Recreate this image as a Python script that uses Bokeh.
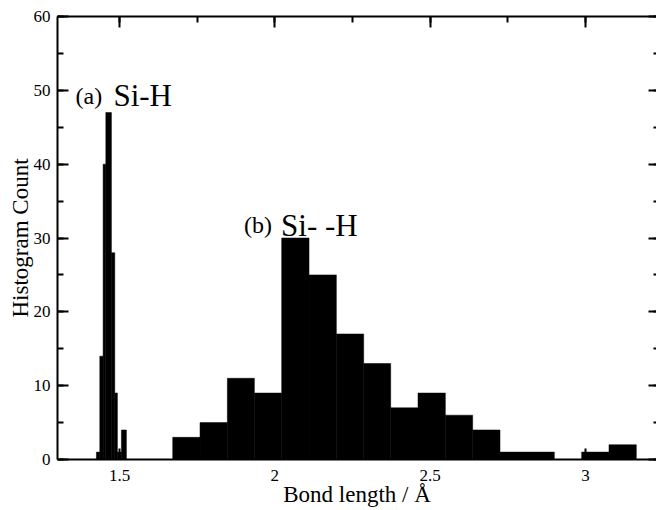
from bokeh.plotting import figure
from bokeh.models import (LinearAxis, Label, Range1d, SingleIntervalTicker,
                          CustomLabelingPolicy)
from bokeh.embed import file_html
from bokeh.resources import INLINE

# (a) Si-H histogram: bin edges (Å) and counts
sih_left = [1.4253, 1.4362, 1.4469, 1.4556, 1.4736, 1.4845, 1.4929, 1.5058]
sih_right = [1.4362, 1.4469, 1.4556, 1.4736, 1.4845, 1.4929, 1.5058, 1.5219]
sih_counts = [1, 14, 40, 47, 28, 9, 1, 4]

# (b) Si- -H histogram: bin edges (Å) and counts
sihh_edges = [1.671, 1.759, 1.847, 1.934, 2.022, 2.110, 2.198, 2.286, 2.373,
              2.461, 2.549, 2.637, 2.725, 2.812, 2.900, 2.988, 3.076, 3.164]
sihh_counts = [3, 5, 11, 9, 30, 25, 17, 13, 7, 9, 6, 4, 1, 1, 0, 1, 2]

x_title = "Bond length / Å"
y_title = "Histogram Count"

FONT = "Liberation Serif"

p = figure(width=656, height=510, output_backend="svg", toolbar_location=None,
           x_range=Range1d(1.3, 3.229), y_range=Range1d(0, 60),
           x_axis_location=None, y_axis_location=None,
           min_border_left=57, min_border_top=16, min_border_bottom=51,
           min_border_right=0)
p.outline_line_color = None
p.grid.visible = False
p.background_fill_color = "white"
p.border_fill_color = "white"

p.quad(left=sih_left, right=sih_right, bottom=0, top=sih_counts,
       fill_color="black", line_color="black", line_width=0.5)
p.quad(left=sihh_edges[:-1], right=sihh_edges[1:], bottom=0, top=sihh_counts,
       fill_color="black", line_color="black", line_width=0.5)

bottom_ax = LinearAxis(ticker=SingleIntervalTicker(interval=0.5, num_minor_ticks=2),
                       axis_label=x_title)
left_ax = LinearAxis(ticker=SingleIntervalTicker(interval=10, num_minor_ticks=2),
                     axis_label=y_title)
top_ax = LinearAxis(ticker=SingleIntervalTicker(interval=0.5, num_minor_ticks=2))
right_ax = LinearAxis(ticker=SingleIntervalTicker(interval=10, num_minor_ticks=2))

for ax in [bottom_ax, left_ax, top_ax, right_ax]:
    ax.axis_line_width = 2
    ax.axis_line_color = "black"
    ax.major_tick_in = 11
    ax.major_tick_out = 0
    ax.minor_tick_in = 6
    ax.minor_tick_out = 0
    ax.major_tick_line_width = 2
    ax.minor_tick_line_width = 2
    ax.major_tick_line_color = "black"
    ax.minor_tick_line_color = "black"
    ax.major_label_text_font = FONT
    ax.major_label_text_font_size = "17px"
    ax.major_label_text_color = "black"
    ax.axis_label_text_font = FONT
    ax.axis_label_text_font_size = "23px"
    ax.axis_label_text_font_style = "normal"
    ax.axis_label_text_color = "black"

hide = CustomLabelingPolicy(code="return new Set()")
for ax in [top_ax, right_ax]:
    ax.major_label_text_font_size = "1px"
    ax.major_label_standoff = -3
    ax.major_label_policy = hide
right_ax.major_label_standoff = -8
right_ax.axis_line_color = None
right_ax.major_tick_in = 8
right_ax.minor_tick_in = 3

bottom_ax.major_label_standoff = 10
bottom_ax.axis_label_standoff = -2
left_ax.major_label_standoff = 7
left_ax.axis_label_standoff = -2

p.add_layout(bottom_ax, "below")
p.add_layout(left_ax, "left")
p.add_layout(top_ax, "above")
p.add_layout(right_ax, "right")

for (lx, ly, txt, fs) in [(1.358, 49.3, "(a)", "24px"), (1.480, 49.3, "Si-H", "31px"),
                          (1.901, 31.7, "(b)", "24px"), (2.020, 31.7, "Si- -H", "31px")]:
    p.add_layout(Label(x=lx, y=ly, text=txt, text_font=FONT, text_font_size=fs,
                       text_color="black", text_baseline="alphabetic"))

open("out.html", "w").write(file_html(p, INLINE))
